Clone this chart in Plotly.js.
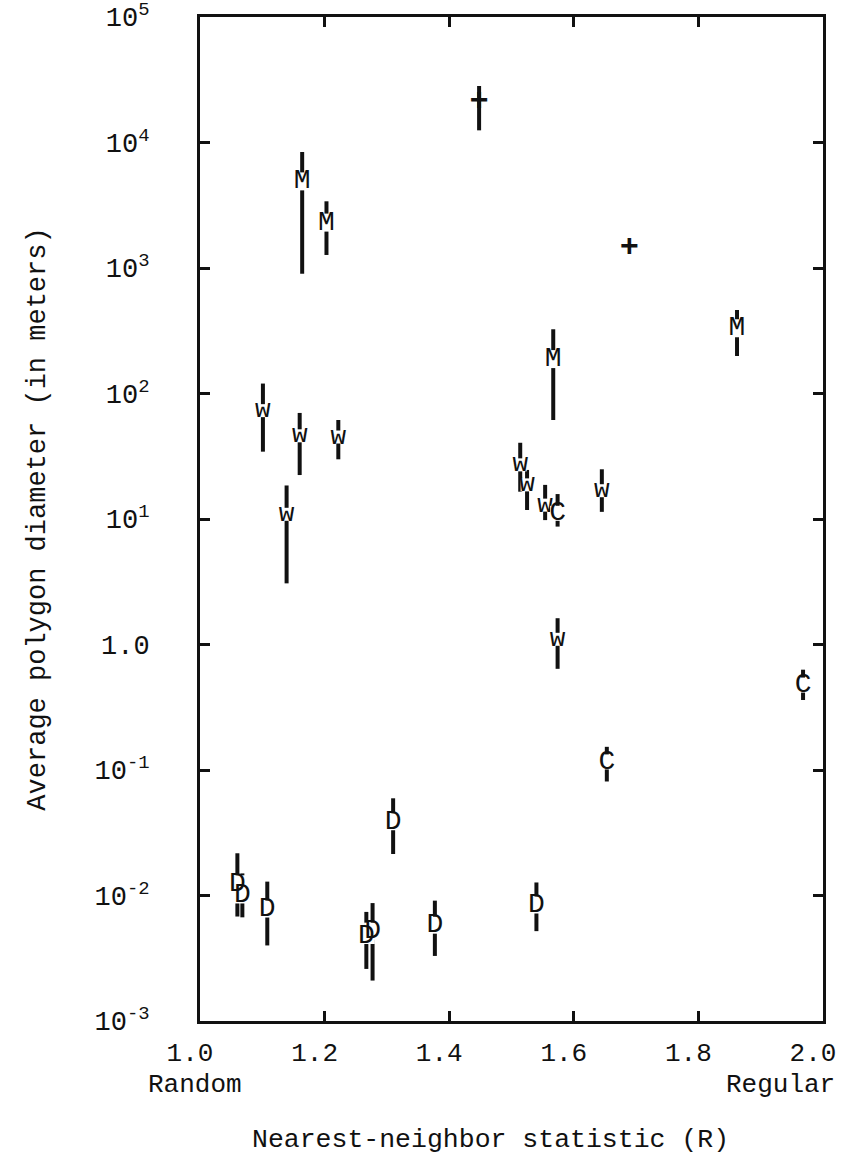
<!DOCTYPE html>
<html>
<head>
<meta charset="utf-8">
<script src="https://cdn.plot.ly/plotly-3.0.1.min.js"></script>
<style>html,body{margin:0;padding:0;background:#fff;}#chart{width:841px;height:1157px;}</style>
</head>
<body>
<div id="chart"></div>
<script>
// ---- data ----
// M points
var M_R  = [1.164, 1.203, 1.567, 1.862];
var M_d  = [4900, 2300, 188, 331];
var M_hi = [8400, 3400, 325, 463];
var M_lo = [900, 1270, 61.5, 199];
// w points
var W_R  = [1.101, 1.160, 1.222, 1.139, 1.514, 1.525, 1.554, 1.645, 1.574];
var W_d  = [73, 46, 45, 10.9, 27, 18.7, 12.9, 16.8, 1.1];
var W_hi = [120, 70, 61.5, 18.5, 40.5, 24.6, 18.7, 24.9, 1.62];
var W_lo = [34.4, 22.4, 29.9, 3.07, 16.5, 11.8, 9.8, 11.4, 0.64];
// C points
var C_R  = [1.574, 1.653, 1.968];
var C_d  = [11.1, 0.116, 0.475];
var C_hi = [15.8, 0.153, 0.63];
var C_lo = [8.7, 0.081, 0.361];
// D points
var D_R  = [1.060, 1.068, 1.108, 1.267, 1.277, 1.310, 1.377, 1.540];
var D_d  = [0.0124, 0.0101, 0.0078, 0.0048, 0.0052, 0.0387, 0.0058, 0.0084];
var D_hi = [0.0217, 0.0150, 0.0129, 0.0074, 0.0087, 0.0595, 0.0091, 0.0127];
var D_lo = [0.0068, 0.0067, 0.0040, 0.0026, 0.0021, 0.0214, 0.0033, 0.0052];
// + points
var P_R  = [1.448, 1.689];
var P_d  = [21100, 1435];
var P_hi = [28200, 1435];
var P_lo = [12500, 1435];

// axis ticks
var xTickVals = [1.0, 1.2, 1.4, 1.6, 1.8, 2.0];
var xTickText = ['1.0', '1.2', '1.4', '1.6', '1.8', '2.0'];
var yTickVals = [1e-3, 1e-2, 1e-1, 1, 1e1, 1e2, 1e3, 1e4, 1e5];
var yTickText = ['10<sup>-3</sup>', '10<sup>-2</sup>', '10<sup>-1</sup>', '1.0',
                 '10<sup>1</sup>', '10<sup>2</sup>', '10<sup>3</sup>', '10<sup>4</sup>', '10<sup>5</sup>'];

var FONT = 'Liberation Mono, Courier New, monospace';

function series(R, d, hi, lo, label, fsize, mask, bold) {
  return {
    type: 'scatter',
    mode: 'markers+text',
    x: R,
    y: d,
    text: R.map(function () { return bold ? '<b>' + label + '</b>' : label; }),
    textposition: 'middle center',
    textfont: {family: FONT, size: fsize, color: '#111'},
    marker: {symbol: 'square', color: mask ? 'white' : 'rgba(0,0,0,0)', size: mask || 1, line: {width: 0}},
    error_y: {
      type: 'data', symmetric: false,
      array: hi.map(function (h, i) { return h - d[i]; }),
      arrayminus: lo.map(function (l, i) { return d[i] - l; }),
      width: 0, thickness: 4, color: '#111'
    },
    hoverinfo: 'skip',
    showlegend: false,
    cliponaxis: false
  };
}

var data = [
  series(D_R, D_d, D_hi, D_lo, 'D', 28, 17, false),
  series(W_R, W_d, W_hi, W_lo, 'w', 26, 13, false),
  series(C_R, C_d, C_hi, C_lo, 'C', 28, 15, false),
  series(M_R, M_d, M_hi, M_lo, 'M', 28, 18, false),
  series(P_R, P_d, P_hi, P_lo, '+', 32, 0, true)
];

var layout = {
  width: 841, height: 1157,
  margin: {l: 200, r: 18, t: 17, b: 136},
  paper_bgcolor: 'white', plot_bgcolor: 'white',
  font: {family: FONT, color: '#111', size: 24},
  xaxis: {
    range: [1, 2],
    tickvals: xTickVals, ticktext: xTickText,
    ticks: 'inside', ticklen: 10, tickwidth: 3, tickcolor: '#111',
    showline: true, linewidth: 3, linecolor: '#111', mirror: 'ticks',
    showgrid: false, zeroline: false,
    tickfont: {family: FONT, size: 26, color: '#111'},
    ticklabelstandoff: 6,
    ticklabelshift: -10,
    ticklabeloverflow: 'allow'
  },
  yaxis: {
    type: 'log', range: [-3, 5],
    tickvals: yTickVals, ticktext: yTickText,
    ticks: 'inside', ticklen: 10, tickwidth: 3, tickcolor: '#111',
    showline: true, linewidth: 3, linecolor: '#111', mirror: 'ticks',
    showgrid: false, zeroline: false,
    tickfont: {family: FONT, size: 27, color: '#111'},
    ticklabelstandoff: 42,
    ticklabeloverflow: 'allow',
    title: {text: 'Average polygon diameter (in meters)', font: {family: FONT, size: 27, color: '#111'}, standoff: 42}
  },
  annotations: [
    {xref: 'paper', yref: 'paper', x: -0.008, y: -0.0637, text: 'Random', showarrow: false,
     xanchor: 'center', yanchor: 'middle', font: {family: FONT, size: 26, color: '#111'}},
    {xref: 'paper', yref: 'paper', x: 0.931, y: -0.0637, text: 'Regular', showarrow: false,
     xanchor: 'center', yanchor: 'middle', font: {family: FONT, size: 26, color: '#111'}},
    {xref: 'paper', yref: 'paper', x: 0.467, y: -0.1185, text: 'Nearest-neighbor statistic (R)', showarrow: false,
     xanchor: 'center', yanchor: 'middle', font: {family: FONT, size: 26.5, color: '#111'}}
  ]
};

Plotly.newPlot('chart', data, layout, {staticPlot: true, displayModeBar: false});
</script>
</body>
</html>
